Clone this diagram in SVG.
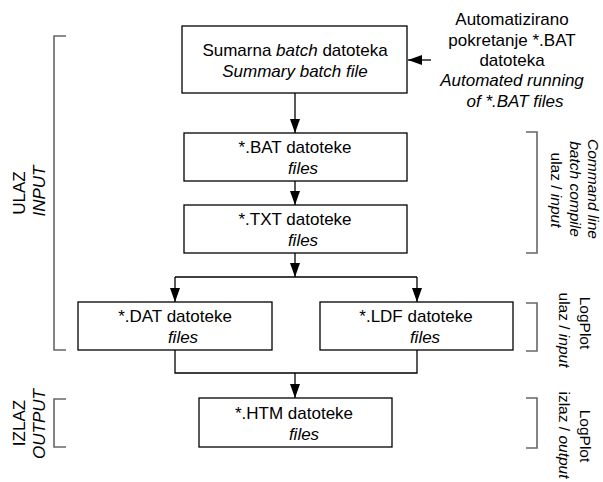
<svg xmlns="http://www.w3.org/2000/svg" width="603" height="482" viewBox="0 0 603 482">
<style>
text{font-family:"Liberation Sans",Arial,sans-serif;font-size:17px;fill:#000}
.m{text-anchor:middle}
.i{font-style:italic}
.r{font-size:15.5px}
.box{fill:#fff;stroke:#000;stroke-width:1.3}
.con{fill:none;stroke:#000;stroke-width:1.3}
.br{fill:none;stroke:#666;stroke-width:1.6}
</style>
<defs>
<marker id="ah" markerUnits="userSpaceOnUse" markerWidth="14" markerHeight="10" refX="14" refY="5" orient="auto">
<path d="M0,0 L14,5 L0,10 z" fill="#000"/>
</marker>
</defs>

<g id="connectors">
<line class="con" x1="431" y1="60" x2="408" y2="60" marker-end="url(#ah)"/>
<line class="con" x1="295" y1="93" x2="295" y2="133" marker-end="url(#ah)"/>
<line class="con" x1="295" y1="181" x2="295" y2="205" marker-end="url(#ah)"/>
<line class="con" x1="295" y1="253" x2="295" y2="277" marker-end="url(#ah)"/>
<polyline class="con" points="175,277 417,277"/>
<line class="con" x1="175" y1="277" x2="175" y2="302" marker-end="url(#ah)"/>
<line class="con" x1="417" y1="277" x2="417" y2="302" marker-end="url(#ah)"/>
<polyline class="con" points="175,350 175,373 417,373 417,350"/>
<line class="con" x1="295" y1="373" x2="295" y2="398" marker-end="url(#ah)"/>
</g>

<g id="brackets">
<path class="br" d="M66,36 H54 V350 H66"/>
<path class="br" d="M66,399 H54 V447 H66"/>
<path class="br" d="M526,132 H537 V253 H526"/>
<path class="br" d="M526,303 H537 V351 H526"/>
<path class="br" d="M526,398 H537 V448 H526"/>
</g>

<g id="summary">
<rect class="box" x="182" y="26" width="225" height="67"/>
<text class="m" x="295" y="56">Sumarna <tspan class="i">batch</tspan> datoteka</text>
<text class="m i" x="295" y="77">Summary batch file</text>
</g>

<g id="auto-label">
<text class="m" x="512" y="25">Automatizirano</text>
<text class="m" x="512" y="45.5">pokretanje *.BAT</text>
<text class="m" x="512" y="66">datoteka</text>
<text class="m i" x="512" y="86">Automated running</text>
<text class="m i" x="515" y="106.5">of *.BAT files</text>
</g>

<g id="bat">
<rect class="box" x="184" y="133" width="223" height="48"/>
<text class="m" x="295" y="153">*.BAT datoteke</text>
<text class="m i" x="303" y="174">files</text>
</g>

<g id="txt">
<rect class="box" x="184" y="205" width="223" height="48"/>
<text class="m" x="295" y="225">*.TXT datoteke</text>
<text class="m i" x="303" y="246">files</text>
</g>

<g id="dat">
<rect class="box" x="78" y="302" width="194" height="48"/>
<text class="m" x="175" y="322">*.DAT datoteke</text>
<text class="m i" x="183" y="343">files</text>
</g>

<g id="ldf">
<rect class="box" x="320" y="302" width="193" height="48"/>
<text class="m" x="416" y="322">*.LDF datoteke</text>
<text class="m i" x="425" y="343">files</text>
</g>

<g id="htm">
<rect class="box" x="199" y="398" width="193" height="49"/>
<text class="m" x="294" y="419">*.HTM datoteke</text>
<text class="m i" x="304" y="440">files</text>
</g>

<g id="input-label">
<text class="m" transform="translate(25,193) rotate(-90)">ULAZ</text>
<text class="m i" transform="translate(45,191) rotate(-90)">INPUT</text>
</g>

<g id="output-label">
<text class="m" transform="translate(25,423) rotate(-90)">IZLAZ</text>
<text class="m i" transform="translate(45,424) rotate(-90)">OUTPUT</text>
</g>

<g id="cmd-label">
<text class="m i r" transform="translate(588,189) rotate(90)">Command line</text>
<text class="m i r" transform="translate(570,189) rotate(90)">batch compile</text>
<text class="m r" transform="translate(551,190) rotate(90)">ulaz / <tspan class="i">input</tspan></text>
</g>

<g id="logplot-in-label">
<text class="m r" transform="translate(580,323) rotate(90)">LogPlot</text>
<text class="m r" transform="translate(559,330) rotate(90)">ulaz / <tspan class="i">input</tspan></text>
</g>

<g id="logplot-out-label">
<text class="m r" transform="translate(580,436) rotate(90)">LogPlot</text>
<text class="m r" transform="translate(559,435) rotate(90)">izlaz / <tspan class="i">output</tspan></text>
</g>
</svg>
